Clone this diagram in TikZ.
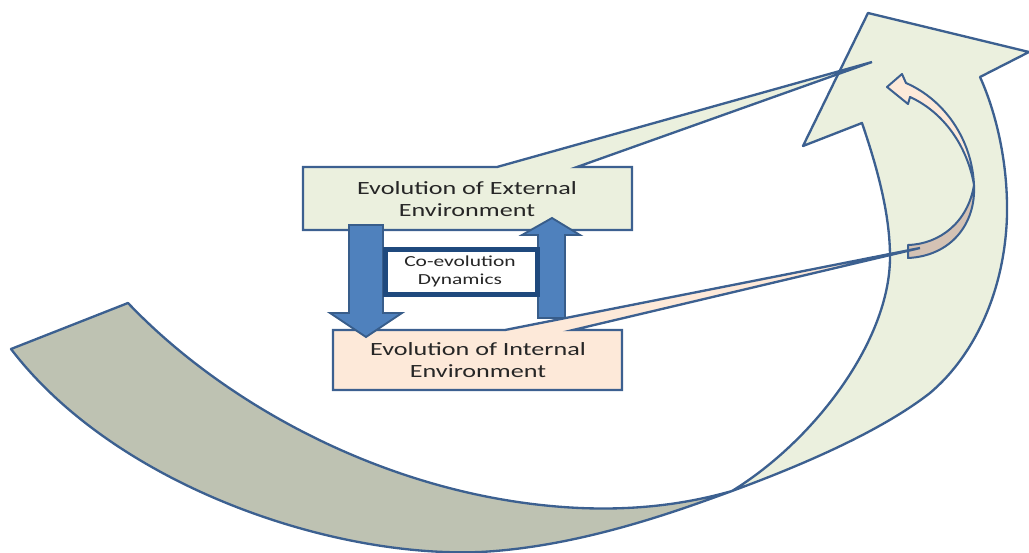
\documentclass[tikz,border=0pt]{standalone}
\usepackage{fontspec}
\newfontfamily\lbl[FakeStretch=1.4]{Carlito}
\definecolor{outl}{HTML}{3C6090}
\definecolor{backgrey}{HTML}{BEC2B2}
\definecolor{lgreen}{HTML}{EBF0DE}
\definecolor{peach}{HTML}{FDE9D9}
\definecolor{tan}{HTML}{D4C2B4}
\definecolor{bluefill}{HTML}{4F81BD}
\definecolor{blueline}{HTML}{385D8A}
\definecolor{darkblue}{HTML}{1F497D}
\begin{document}
\begin{tikzpicture}[x=0.75pt,y=-0.75pt,
  shapeline/.style={draw=outl,line width=1.75pt,line join=round},
  blockarrow/.style={draw=blueline,fill=bluefill,line width=1.4pt},
  biglabel/.style={font=\lbl\fontsize{14}{16.5}\selectfont,align=center,inner sep=0pt,text=black!85},
  smalllabel/.style={font=\lbl\fontsize{11.5}{13.5}\selectfont,align=center,inner sep=0pt,text=black!85}]
\useasboundingbox (0,0) rectangle (1029,553);
% back (grey) part of the big curved arrow
\path[shapeline,fill=backgrey] (11,349) -- (128,303)
  .. controls (230,410) and (400,500) .. (580,508)
  .. controls (650,511) and (700,500) .. (732,491)
  .. controls (680,510) and (580,547) .. (480,552)
  .. controls (330,558) and (115,485) .. (11,349) -- cycle;
% front (green) part of the big curved arrow
\path[shapeline,fill=lgreen] (732,491)
  .. controls (800,466) and (880,432) .. (930,393)
  .. controls (975,355) and (1005,290) .. (1007,215)
  .. controls (1008,160) and (995,110) .. (980,77)
  -- (1029,52) -- (868,13) -- (803,146) -- (862,123)
  .. controls (878,170) and (890,215) .. (890,257)
  .. controls (890,340) and (815,440) .. (732,491) -- cycle;
% small curved arrow
\path[shapeline,line width=1.5pt,fill=tan] (974,185) .. controls (976,225) and (950,256) .. (908,258)
  -- (908,245) .. controls (940,244) and (968,222) .. (974,185) -- cycle;
\path[shapeline,line width=1.5pt,fill=peach] (887,87) -- (902,74) -- (906,83)
  .. controls (945,100) and (972,140) .. (974,185)
  .. controls (967,145) and (943,112) .. (910,97) -- (908,104) -- cycle;
% callout boxes
\path[shapeline,fill=lgreen,line join=miter] (303,167) -- (497,167) -- (872,62) -- (577,167) -- (632,167) -- (632,230) -- (303,230) -- cycle;
\path[shapeline,fill=peach,line join=miter] (333,330) -- (505,330) -- (920,248) -- (573,330) -- (622,330) -- (622,390) -- (333,390) -- cycle;
\node[biglabel] (ext) at (467,199) {Evolution of External\\Environment};
\node[biglabel] (int) at (478,360) {Evolution of Internal\\Environment};
% block arrows
\path[blockarrow] (349,225) -- (383,225) -- (383,313) -- (402,313) -- (366,337) -- (330,313) -- (349,313) -- cycle;
\path[blockarrow] (538,318) -- (565,318) -- (565,235) -- (580,235) -- (552,218) -- (522,235) -- (538,235) -- cycle;
% co-evolution box
\draw[draw=darkblue,fill=white,line width=3.75pt] (385.5,249.5) rectangle (537.5,294.5);
\node[smalllabel] (coev) at (460,271) {Co-evolution\\Dynamics};
\end{tikzpicture}
\end{document}
